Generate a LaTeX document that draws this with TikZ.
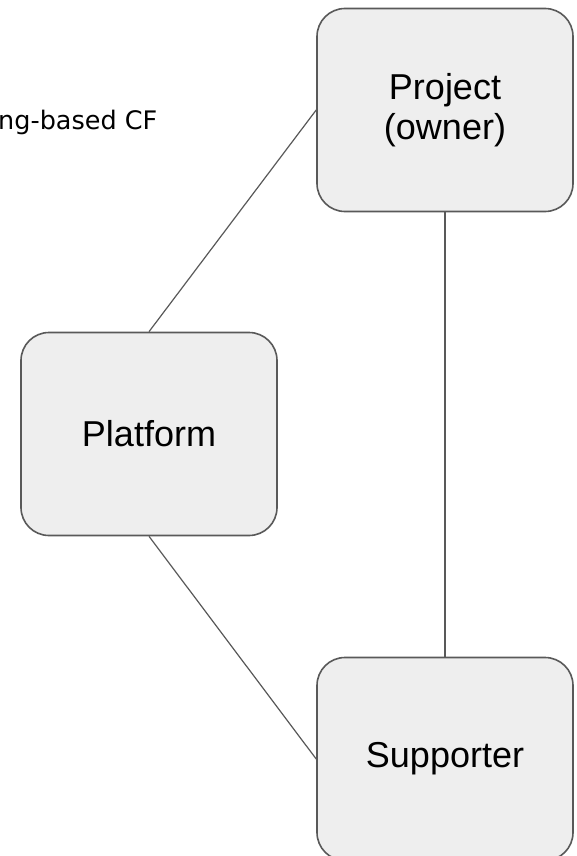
\documentclass[tikz,border=0pt]{standalone}
\usepackage{fontspec}
\setmainfont{Liberation Sans}
\newfontfamily\titlefont{DejaVu Sans}
\definecolor{boxfill}{HTML}{EEEEEE}
\definecolor{boxline}{HTML}{595959}
\begin{document}
\begin{tikzpicture}[x=1pt,y=-1pt,
  party/.style={draw=boxline, line width=1.6pt, fill=boxfill,
    rounded corners=28pt, inner sep=0pt, align=center,
    minimum width=256pt, minimum height=203pt,
    font=\fontsize{36}{40}\selectfont},
  link/.style={draw=boxline, line width=1.2pt}]
  \useasboundingbox (0,0) rectangle (577,856);
  \fill[white] (0,0) rectangle (577,856);

  % heading fragment at the top left
  \node[anchor=base west, inner sep=0pt,
        font=\titlefont\fontsize{25.5}{30}\selectfont] (title) at (-2,129) {ng-based CF};

  % the three parties
  \node[party] (project)   at (445,110) {Project\\(owner)};
  \node[party] (platform)  at (149,434) {Platform};
  \node[party] (supporter) at (445,759) {Supporter};

  % relations between them
  \draw[link] (platform.north) -- (project.west);
  \draw[link] (platform.south) -- (supporter.west);
  \draw[link] (project.south) -- (supporter.north);
\end{tikzpicture}
\end{document}
